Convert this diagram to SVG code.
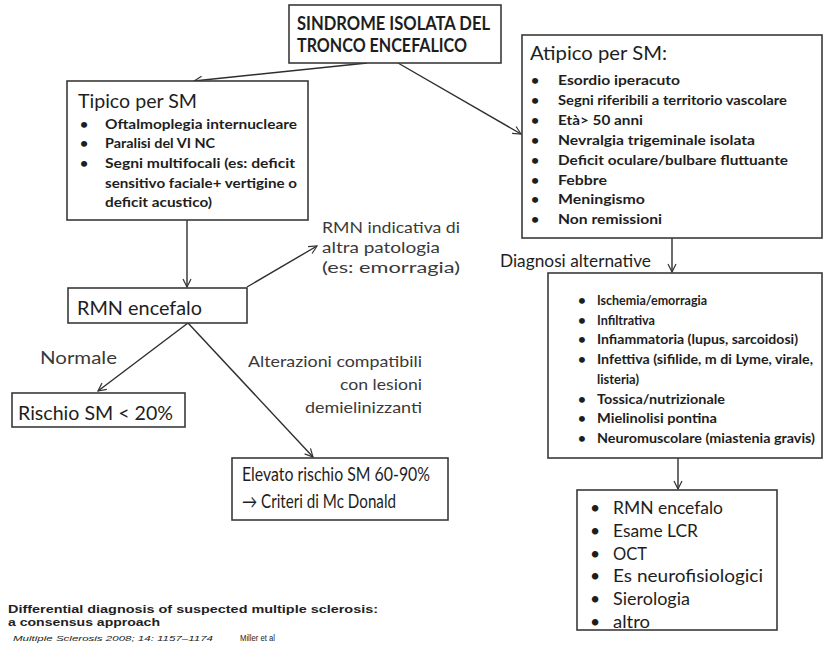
<svg xmlns="http://www.w3.org/2000/svg" width="825" height="652" viewBox="0 0 825 652">
<defs>
<marker id="arr" markerWidth="10" markerHeight="10" refX="9" refY="5" orient="auto" markerUnits="userSpaceOnUse">
<path d="M1,1 L9,5 L1,9" fill="none" stroke="#333" stroke-width="1.2"/>
</marker>
<style>
.box{fill:#fff;stroke:#3a3a3a;stroke-width:1.6}
.t{font-family:Lato,"Liberation Sans",sans-serif;fill:#1e1e1e}
.b{font-weight:bold}
.lbl{font-family:Lato,"Liberation Sans",sans-serif;fill:#3a3a3a}
.ln{fill:none;stroke:#2e2e2e;stroke-width:1.4}
.cit{font-family:"Liberation Sans",sans-serif;fill:#222}
</style>
</defs>
<rect width="825" height="652" fill="#fff"/>

<g id="connectors">
<line class="ln" x1="367" y1="63" x2="194" y2="81" marker-end="url(#arr)"/>
<line class="ln" x1="398" y1="63" x2="521" y2="134" marker-end="url(#arr)"/>
<line class="ln" x1="187" y1="220" x2="187" y2="287" marker-end="url(#arr)"/>
<line class="ln" x1="247" y1="287" x2="317" y2="246" stroke-width="1" marker-end="url(#arr)"/>
<line class="ln" x1="188" y1="323" x2="98" y2="391" marker-end="url(#arr)"/>
<line class="ln" x1="188" y1="323" x2="313" y2="457" marker-end="url(#arr)"/>
<line class="ln" x1="672" y1="238" x2="672" y2="272" marker-end="url(#arr)"/>
<line class="ln" x1="678" y1="458" x2="678" y2="489" marker-end="url(#arr)"/>
</g>

<g id="n-sindrome">
<rect class="box" x="289" y="5" width="212" height="58"/>
<text class="t b" x="297" y="30" font-size="19" textLength="193" lengthAdjust="spacingAndGlyphs">SINDROME ISOLATA DEL</text>
<text class="t b" x="297" y="52" font-size="19" textLength="170" lengthAdjust="spacingAndGlyphs">TRONCO ENCEFALICO</text>
</g>

<g id="n-tipico">
<rect class="box" x="67" y="81" width="241" height="139"/>
<text class="t" x="78" y="108" font-size="18.5" textLength="119" lengthAdjust="spacingAndGlyphs">Tipico per SM</text>
<g class="t b" font-size="14">
<text x="80" y="128.5">•</text>
<text x="80" y="148">•</text>
<text x="80" y="168">•</text>
<text x="105" y="128.5" textLength="192" lengthAdjust="spacingAndGlyphs">Oftalmoplegia internucleare</text>
<text x="105" y="148" textLength="110" lengthAdjust="spacingAndGlyphs">Paralisi del VI NC</text>
<text x="105" y="168" textLength="190" lengthAdjust="spacingAndGlyphs">Segni multifocali (es: deficit</text>
<text x="105" y="187.5" textLength="192" lengthAdjust="spacingAndGlyphs">sensitivo faciale+ vertigine o</text>
<text x="105" y="207" textLength="107" lengthAdjust="spacingAndGlyphs">deficit acustico)</text>
</g>
</g>

<g id="n-atipico">
<rect class="box" x="522" y="35" width="300" height="203"/>
<text class="t" x="530" y="60" font-size="18.5" textLength="137" lengthAdjust="spacingAndGlyphs">Atipico per SM:</text>
<g class="t b" font-size="14">
<text x="531" y="85">•</text>
<text x="531" y="104.9">•</text>
<text x="531" y="124.8">•</text>
<text x="531" y="144.7">•</text>
<text x="531" y="164.6">•</text>
<text x="531" y="184.5">•</text>
<text x="531" y="204.4">•</text>
<text x="531" y="224.3">•</text>
<text x="558" y="85" textLength="122" lengthAdjust="spacingAndGlyphs">Esordio iperacuto</text>
<text x="558" y="104.9" textLength="229" lengthAdjust="spacingAndGlyphs">Segni riferibili a territorio vascolare</text>
<text x="558" y="124.8" textLength="85" lengthAdjust="spacingAndGlyphs">Età&gt; 50 anni</text>
<text x="558" y="144.7" textLength="197" lengthAdjust="spacingAndGlyphs">Nevralgia trigeminale isolata</text>
<text x="558" y="164.6" textLength="230" lengthAdjust="spacingAndGlyphs">Deficit oculare/bulbare fluttuante</text>
<text x="558" y="184.5" textLength="49" lengthAdjust="spacingAndGlyphs">Febbre</text>
<text x="558" y="204.4" textLength="87" lengthAdjust="spacingAndGlyphs">Meningismo</text>
<text x="558" y="224.3" textLength="104" lengthAdjust="spacingAndGlyphs">Non remissioni</text>
</g>
</g>

<g id="n-rmn-altra">
<text class="lbl" x="322" y="233" font-size="16" textLength="138" lengthAdjust="spacingAndGlyphs">RMN indicativa di</text>
<text class="lbl" x="322" y="253" font-size="16" textLength="118" lengthAdjust="spacingAndGlyphs">altra  patologia</text>
<text class="lbl" x="322" y="273" font-size="16" textLength="138" lengthAdjust="spacingAndGlyphs">(es: emorragia)</text>
</g>

<g id="n-rmn">
<rect class="box" x="68" y="288" width="179" height="35"/>
<text class="t" x="77" y="315" font-size="18.5" textLength="125" lengthAdjust="spacingAndGlyphs">RMN encefalo</text>
</g>

<g id="lbl-normale">
<text class="lbl" x="40" y="364" font-size="17" textLength="77" lengthAdjust="spacingAndGlyphs">Normale</text>
</g>

<g id="n-rischio">
<rect class="box" x="12" y="393" width="173" height="34"/>
<text class="t" x="18" y="420" font-size="19" textLength="155" lengthAdjust="spacingAndGlyphs">Rischio SM &lt; 20%</text>
</g>

<g id="lbl-alterazioni">
<text class="lbl" x="422" y="367" font-size="16" text-anchor="end" textLength="174" lengthAdjust="spacingAndGlyphs">Alterazioni compatibili</text>
<text class="lbl" x="422" y="390" font-size="16" text-anchor="end" textLength="82" lengthAdjust="spacingAndGlyphs">con lesioni</text>
<text class="lbl" x="422" y="413" font-size="16" text-anchor="end" textLength="117" lengthAdjust="spacingAndGlyphs">demielinizzanti</text>
</g>

<g id="n-elevato">
<rect class="box" x="232" y="458" width="216" height="62"/>
<text class="t" x="242" y="481" font-size="18.5" textLength="188" lengthAdjust="spacingAndGlyphs">Elevato rischio SM 60-90%</text>
<text class="t" x="242" y="508" font-size="18.5" textLength="154" lengthAdjust="spacingAndGlyphs">→ Criteri di Mc Donald</text>
</g>

<g id="lbl-diagnosi">
<text class="t" x="500" y="267" font-size="18" textLength="151" lengthAdjust="spacingAndGlyphs">Diagnosi alternative</text>
</g>

<g id="n-diagnosi">
<rect class="box" x="548" y="273" width="274" height="185"/>
<g class="t b" font-size="13.5">
<text x="578" y="305">•</text>
<text x="578" y="324.7">•</text>
<text x="578" y="344.4">•</text>
<text x="578" y="364.1">•</text>
<text x="578" y="403.5">•</text>
<text x="578" y="423.2">•</text>
<text x="578" y="442.9">•</text>
<text x="597" y="305" textLength="110" lengthAdjust="spacingAndGlyphs">Ischemia/emorragia</text>
<text x="597" y="324.7" textLength="58" lengthAdjust="spacingAndGlyphs">Infiltrativa</text>
<text x="597" y="344.4" textLength="201" lengthAdjust="spacingAndGlyphs">Infiammatoria (lupus, sarcoidosi)</text>
<text x="597" y="364.1" textLength="216" lengthAdjust="spacingAndGlyphs">Infettiva (sifilide, m di Lyme, virale,</text>
<text x="597" y="383.8" textLength="42" lengthAdjust="spacingAndGlyphs">listeria)</text>
<text x="597" y="403.5" textLength="128" lengthAdjust="spacingAndGlyphs">Tossica/nutrizionale</text>
<text x="597" y="423.2" textLength="120" lengthAdjust="spacingAndGlyphs">Mielinolisi pontina</text>
<text x="597" y="442.9" textLength="218" lengthAdjust="spacingAndGlyphs">Neuromuscolare (miastenia gravis)</text>
</g>
</g>

<g id="n-esami">
<rect class="box" x="577" y="490" width="200" height="140"/>
<g class="t" font-size="17.5">
<text x="590" y="514">•</text>
<text x="590" y="536.8">•</text>
<text x="590" y="559.6">•</text>
<text x="590" y="582.4">•</text>
<text x="590" y="605.2">•</text>
<text x="590" y="628">•</text>
<text x="613" y="514" textLength="110" lengthAdjust="spacingAndGlyphs">RMN encefalo</text>
<text x="613" y="536.8" textLength="85" lengthAdjust="spacingAndGlyphs">Esame LCR</text>
<text x="613" y="559.6" textLength="34" lengthAdjust="spacingAndGlyphs">OCT</text>
<text x="613" y="582.4" textLength="150" lengthAdjust="spacingAndGlyphs">Es neurofisiologici</text>
<text x="613" y="605.2" textLength="77" lengthAdjust="spacingAndGlyphs">Sierologia</text>
<text x="613" y="628" textLength="37" lengthAdjust="spacingAndGlyphs">altro</text>
</g>
</g>

<g id="citation">
<text class="cit b" x="8" y="613" font-size="11" textLength="370" lengthAdjust="spacingAndGlyphs">Differential diagnosis of suspected multiple sclerosis:</text>
<text class="cit b" x="8" y="626" font-size="11" textLength="152" lengthAdjust="spacingAndGlyphs">a consensus approach</text>
<text class="cit" x="13" y="641" font-size="8" font-style="italic" textLength="200" lengthAdjust="spacingAndGlyphs">Multiple Sclerosis 2008; 14: 1157–1174</text>
<text class="cit" x="240" y="641" font-size="8.5" textLength="35" lengthAdjust="spacingAndGlyphs">Miller et al</text>
</g>
</svg>
